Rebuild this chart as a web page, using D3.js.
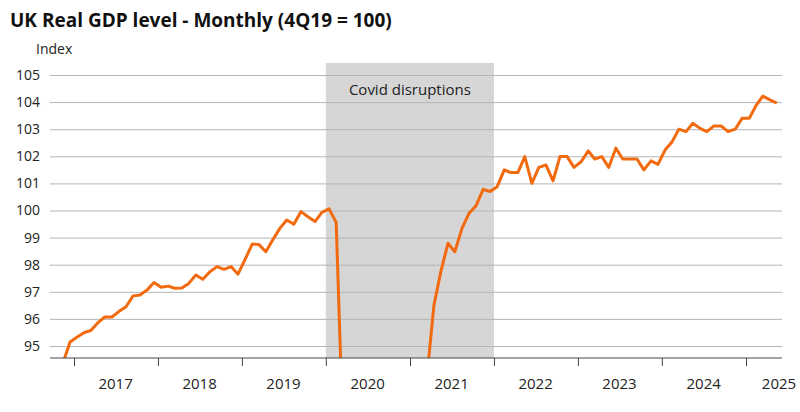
<!DOCTYPE html>
<html><head><meta charset="utf-8">
<script src="https://cdn.jsdelivr.net/npm/d3@7"></script>
<style>body{margin:0;background:#fff}svg{font-family:"Open Sans",sans-serif}</style>
</head><body><svg id="c" width="800" height="412"></svg>
<script>
const startMonth = [2016, 10]; // Nov 2016 (0-based month)
const gdp = [94.4,95.15,95.33,95.5,95.57,95.86,96.07,96.07,96.27,96.45,96.85,96.88,97.07,97.34,
97.17,97.21,97.13,97.14,97.31,97.62,97.46,97.74,97.93,97.83,97.93,97.65,
98.2,98.76,98.75,98.48,98.91,99.34,99.65,99.49,99.96,99.77,99.59,99.93,
100.06,99.56,92.0,75.0,78.5,85.5,91.2,93.2,94.0,94.2,92.8,93.6,91.5,92.4,93.8,96.5,
97.74,98.79,98.48,99.34,99.9,100.17,100.78,100.7,100.88,101.5,101.4,101.4,101.99,101.0,101.59,101.68,101.09,101.99,101.99,101.59,
101.8,102.2,101.9,101.99,101.59,102.3,101.9,101.9,101.9,101.5,101.83,101.7,
102.23,102.54,103.0,102.91,103.22,103.03,102.91,103.12,103.12,102.91,103.0,103.4,
103.4,103.89,104.22,104.08,103.96];
const yTicks = [95,96,97,98,99,100,101,102,103,104,105];
const years = [2017,2018,2019,2020,2021,2022,2023,2024,2025];
const shade = [new Date(2020,0,1), new Date(2022,0,1)];
const shadeLabel = "Covid disruptions";

const svg = d3.select("#c");
const L=50,R=782,T=63,B=358;
const x = d3.scaleTime().domain([new Date(2017,0,1), new Date(2025,0,1)]).range([74,746]);
const y = d3.scaleLinear().domain([95,105]).range([346,75]);
const data = gdp.map((v,i)=>({d:new Date(startMonth[0], startMonth[1]+i, 15), v}));

svg.append("rect").attr("x",x(shade[0])).attr("y",T).attr("width",x(shade[1])-x(shade[0])).attr("height",B-T).attr("fill","#d6d6d6");
svg.append("text").attr("x",(x(shade[0])+x(shade[1]))/2).attr("y",95).attr("text-anchor","middle").attr("font-size",15).attr("fill","#222").text(shadeLabel);

const ya = svg.append("g").attr("transform",`translate(${L},0)`)
 .call(d3.axisLeft(y).tickValues(yTicks).tickSize(-(R-L)).tickPadding(10).tickFormat(d3.format("d")));
ya.select(".domain").remove();
ya.selectAll("line").attr("stroke","#b5b5b5").attr("stroke-width",1);
ya.selectAll("text").attr("font-size",14).attr("fill","#222").attr("font-family","Open Sans");

svg.append("clipPath").attr("id","cl").append("rect").attr("x",L).attr("y",T).attr("width",R-L).attr("height",B-T);
svg.append("path").datum(data).attr("clip-path","url(#cl)")
 .attr("fill","none").attr("stroke","#f26a10").attr("stroke-width",3).attr("stroke-linejoin","round")
 .attr("d",d3.line().x(d=>x(d.d)).y(d=>y(d.v)));

const xa = svg.append("g").attr("transform",`translate(0,${B})`)
 .call(d3.axisBottom(x).tickValues(years.map(yy=>new Date(yy,0,1))).tickSize(8).tickFormat(""));
xa.select(".domain").attr("d",`M${L},0H${R}`).attr("stroke","#444");
xa.selectAll("line").attr("stroke","#444");
svg.append("g").selectAll("text").data(years).join("text")
 .attr("x",d=>Math.min(x(new Date(d,6,1)),779)).attr("y",389).attr("text-anchor","middle").attr("font-size",15).attr("fill","#222").text(d=>d);

svg.append("text").attr("x",10).attr("y",27).attr("font-size",19).attr("font-weight","bold").attr("fill","#111").text("UK Real GDP level - Monthly (4Q19 = 100)");
svg.append("text").attr("x",36).attr("y",54).attr("font-size",14).attr("fill","#222").text("Index");
</script></body></html>
